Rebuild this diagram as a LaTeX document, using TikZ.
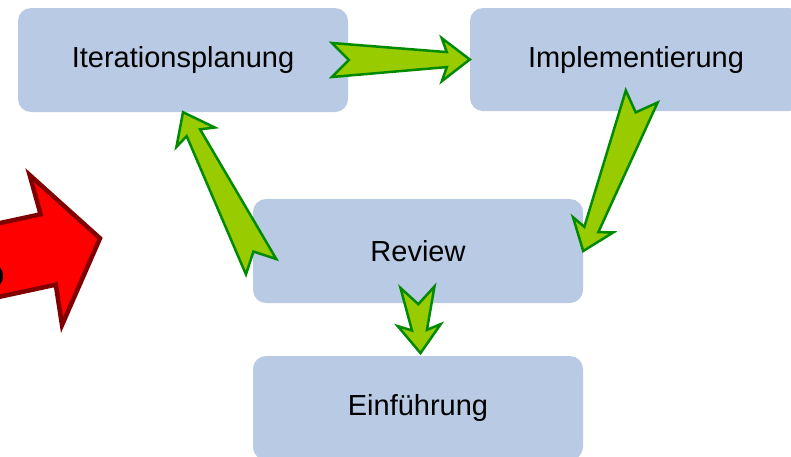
\documentclass[tikz,border=0pt]{standalone}
\usepackage{fontspec}
\setmainfont{Liberation Sans}
\usetikzlibrary{calc}

\definecolor{boxblue}{HTML}{B9CAE4}
\definecolor{arrowgreen}{HTML}{99CC00}
\definecolor{arrowedge}{HTML}{008A00}
\definecolor{redfill}{HTML}{FF0000}
\definecolor{rededge}{HTML}{800000}

% geometry of a notched block arrow
\pgfkeys{/blockarrow/.cd,
  tail/.store in=\baTail, notch/.store in=\baNotch,
  neck/.store in=\baNeck, neck at/.store in=\baNeckAt,
  barb/.store in=\baBarb, barb at/.store in=\baBarbAt}

% #1 geometry keys, #2 draw style, #3 tail centre, #4 tip
\newcommand\blockarrow[4]{%
  \pgfkeys{/blockarrow/.cd,#1}%
  \path (#3) coordinate (ba-t) (#4) coordinate (ba-p);
  \path ($(ba-p)!\baNeckAt!(ba-t)$) coordinate (ba-n)
        ($(ba-p)!\baBarbAt!(ba-t)$) coordinate (ba-b);
  \draw[#2] ($(ba-t)!\baTail!90:(ba-p)$)
    -- ($(ba-t)!\baNotch!(ba-p)$)
    -- ($(ba-t)!\baTail!-90:(ba-p)$)
    -- ($(ba-n)!\baNeck!-90:(ba-p)$)
    -- ($(ba-b)!\baBarb!-90:(ba-p)$)
    -- (ba-p)
    -- ($(ba-b)!\baBarb!90:(ba-p)$)
    -- ($(ba-n)!\baNeck!90:(ba-p)$)
    -- cycle;
}

\tikzset{
  phase/.style={rectangle, rounded corners=13pt, fill=boxblue, draw=none,
    minimum width=330pt, minimum height=104pt, inner sep=0pt,
    font=\fontsize{29}{34}\selectfont, text=black},
  greenarrow/.style={fill=arrowgreen, draw=arrowedge, line width=2.5pt},
  redarrow/.style={fill=redfill, draw=rededge, line width=4.5pt},
  greengeom/.style={},
}

\begin{document}
\begin{tikzpicture}[x=1pt, y=-1pt]
  \useasboundingbox (0,0) rectangle (791,456);
  \clip (0,0) rectangle (791,456);

  % large red arrow entering from the left
  \coordinate (redtip) at (100,238.3);
  \coordinate (redtail) at (-95.6,280.5);
  \blockarrow{tail=36pt, notch=0pt, neck=36pt, neck at=53pt,
              barb=76.7pt, barb at=55.4pt}{redarrow}{redtail}{redtip}
  \fill[black] (-10,276) ellipse [x radius=13, y radius=14];

  % phases
  \node[phase] (plan)   at (183,60)    {Iterationsplanung};
  \node[phase, minimum width=332pt, minimum height=103pt]
               (impl)   at (636,59.5)  {Implementierung};
  \node[phase] (review) at (418,251)   {Review};
  \node[phase] (intro)  at (418,408)   {Einführung};

  % transitions between phases
  \coordinate (t1) at ($(plan.east)+(-16.3,0)$);
  \coordinate (t2) at ($(impl.south)+(5.7,-14.7)$);
  \coordinate (t3) at ($(review.west)+(8.3,15.7)$);
  \coordinate (t4) at ($(review.south)+(-0.5,-16)$);
  \coordinate (p4) at ($(intro.north)+(2.5,-2.7)$);

  \def\greenkeys{tail=17pt, notch=17pt, neck=7.5pt, neck at=23pt,
                 barb=21.5pt, barb at=28pt}
  \expandafter\blockarrow\expandafter{\greenkeys}{greenarrow}{t1}{impl.west}
  \expandafter\blockarrow\expandafter{\greenkeys}{greenarrow}{t2}{review.east}
  \expandafter\blockarrow\expandafter{\greenkeys}{greenarrow}{t3}{plan.south}
  \expandafter\blockarrow\expandafter{\greenkeys}{greenarrow}{t4}{p4}
\end{tikzpicture}
\end{document}
